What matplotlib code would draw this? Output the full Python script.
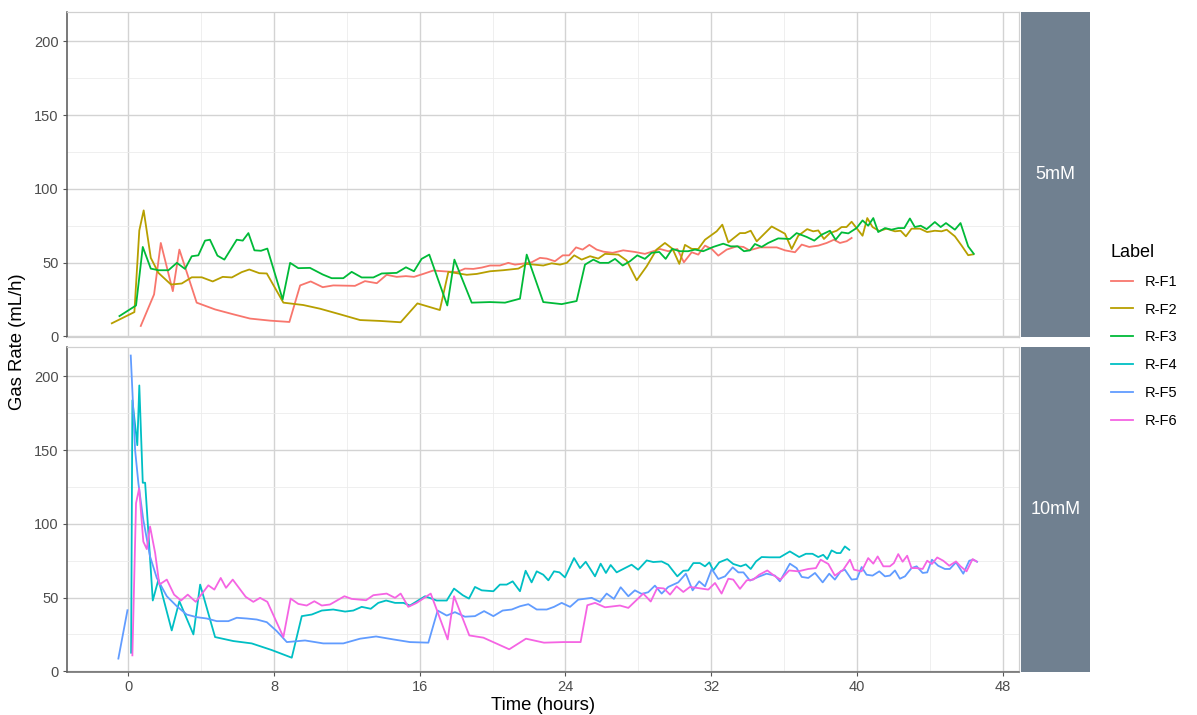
import numpy as np
import matplotlib
matplotlib.use("Agg")
import matplotlib.pyplot as plt
from matplotlib.lines import Line2D

plt.rcParams['font.family'] = ['Liberation Sans', 'DejaVu Sans']

# ---- data ----
labels = ["R-F1", "R-F2", "R-F3", "R-F4", "R-F5", "R-F6"]
colors = ["#F8766D", "#B79F00", "#00BA38", "#00BFC4", "#619CFF", "#F564E3"]
facets = ["5mM", "10mM"]

f1_t = [0.68, 1.41, 1.78, 2.44, 2.8, 3.75, 4.76, 5.76, 6.68, 7.78, 8.84, 9.43, 10.01, 10.67, 11.25,
        12.44, 12.99, 13.64, 14.18, 14.73, 15.24, 15.68, 16.19, 16.74, 17.29, 18.03, 18.48, 18.94,
        19.4, 19.86, 20.4, 20.86, 21.23, 21.68, 22.14, 22.6, 22.97, 23.42, 23.85, 24.2, 24.58, 24.94,
        25.31, 25.71, 26.08, 26.59, 27.17, 27.81, 28.36, 28.82, 29.19, 29.64, 30.14, 30.5, 30.93,
        31.29, 31.66, 32.03, 32.39, 32.85, 33.4, 33.77, 34.09, 34.68, 35.6, 36.05, 36.6, 36.97,
        37.38, 37.88, 38.34, 38.74, 39.07, 39.44, 39.71]
f1_v = [7, 28.4, 63.3, 30.6, 58.8, 22.8, 18.2, 14.9, 12, 10.6, 9.7, 34.5, 37.2, 33.3, 34.5,
        34.2, 37.4, 36, 41.7, 40.3, 40.8, 40.3, 42.3, 44.6, 44.1, 43.5, 45.9, 45.7,
        46.6, 48, 48, 49.8, 48.6, 49.3, 50.2, 53.2, 52.7, 50.9, 54.9, 54.9, 60.3, 58.8,
        62, 58.8, 57.4, 56.6, 58.3, 57.2, 55.9, 57.7, 59.2, 57.7, 59.2, 50.2, 57,
        55.4, 61.5, 59.2, 54.7, 58.8, 61, 60.6, 58.3, 60.3, 60.3, 58.3, 57, 62.2,
        60.6, 61.5, 63.3, 65.5, 63.3, 64.5, 66.7]

f2_t = [-0.91, 0.33, 0.6, 0.84, 1.23, 1.65, 2.34, 2.93, 3.48, 4.03, 4.63, 5.18, 5.68, 6.22, 6.64,
        7.19, 7.6, 8.51, 9.6, 10.52, 11.62, 12.72, 13.82, 14.95, 15.87, 17.1, 17.57, 18.58, 19.13,
        19.86, 20.58, 21.41, 21.87, 22.78, 23.24, 23.7, 24.07, 24.48, 24.89, 25.35, 25.8, 26.17,
        26.9, 27.36, 27.91, 28.46, 29.0, 29.46, 29.88, 30.25, 30.56, 30.93, 31.29, 31.66, 32.3,
        32.61, 32.94, 33.58, 33.86, 34.17, 34.5, 35.32, 36.05, 36.42, 36.78, 37.27, 37.6, 37.88,
        38.19, 38.52, 38.89, 39.16, 39.43, 39.71, 39.98, 40.31, 40.57, 40.86, 41.23, 41.63, 42.09,
        42.4, 42.69, 43.0, 43.46, 43.86, 44.28, 44.65, 44.93, 45.38, 45.75, 46.11, 46.39]
f2_v = [8.8, 16.4, 71.8, 85.4, 53.2, 43, 35.1, 35.8, 40, 40, 37.2, 40.3, 39.9, 43.5, 45.3,
        42.8, 42.6, 22.8, 21.2, 18.7, 14.9, 11, 10.4, 9.5, 22.3, 17.8, 43.7, 41.7, 42.3,
        44.1, 44.8, 45.9, 49.1, 48, 49.5, 48.6, 49.8, 54.9, 52, 54.3, 52.7, 55.9,
        55.4, 51.4, 38, 47.5, 58.8, 63.3, 59.3, 49.1, 62, 59.3, 59.2, 65.5, 71.2,
        75.7, 63.7, 70, 70, 71.6, 64.4, 74.5, 69.6, 59.2, 68.2, 72.7, 71.2, 71.8,
        66, 70, 71.6, 74.1, 74.1, 77.7, 73.4, 68.2, 80.2, 74.1, 71.4, 73, 71.2,
        71.6, 67.8, 73, 73, 70.7, 71.6, 71.2, 72.3, 67.8, 61.5, 55, 55.6]

f3_t = [-0.49, 0.42, 0.79, 1.23, 1.65, 2.2, 2.66, 3.11, 3.48, 3.84, 4.21, 4.48, 4.89, 5.27, 5.95,
        6.28, 6.59, 6.92, 7.28, 7.63, 8.47, 8.88, 9.33, 9.97, 10.67, 11.16, 11.8, 12.26, 12.81,
        13.45, 13.91, 14.73, 15.24, 15.68, 16.1, 16.52, 17.51, 17.9, 18.85, 19.86, 20.68, 21.5,
        21.87, 22.78, 23.79, 24.61, 25.07, 25.53, 25.89, 26.36, 26.72, 27.14, 27.54, 27.94, 28.36,
        28.73, 29.15, 29.5, 29.86, 30.28, 30.73, 31.11, 31.56, 32.11, 32.66, 33.07, 33.46, 33.8,
        34.13, 34.4, 34.77, 35.13, 35.68, 36.32, 36.69, 37.24, 37.66, 38.06, 38.52, 38.83, 39.16,
        39.53, 39.98, 40.31, 40.62, 40.9, 41.17, 41.54, 41.9, 42.27, 42.6, 42.91, 43.18, 43.5,
        43.83, 44.28, 44.6, 44.89, 45.38, 45.69, 46.11, 46.42]
f3_v = [13.7, 20.9, 60.6, 45.9, 44.8, 44.8, 49.8, 45.7, 54.3, 54.9, 64.9, 65.5, 54.7, 52, 65.5,
        64.9, 70, 58.3, 58, 59.5, 25, 49.8, 46.2, 46.4, 41.9, 39.4, 39.4, 43.7, 39.9,
        39.9, 42.6, 43, 46.8, 44.1, 52.5, 55.4, 20.9, 52, 22.8, 23.2, 22.8, 25.5,
        55.4, 23.2, 21.8, 23.9, 48.6, 52, 49.8, 49.8, 52.5, 48, 50.9, 54.9, 52.5,
        56.6, 57.2, 52.5, 59.3, 57.7, 57.7, 58.8, 57.7, 60.6, 62.8, 61, 61, 57.7,
        58.3, 62.6, 60.6, 63.3, 66.4, 66, 70, 67.4, 64.9, 68.9, 71.6, 65.5, 70.5,
        69.8, 73.4, 78.6, 75, 80.2, 70.7, 73.4, 72.3, 73.4, 73.4, 79.9, 74.1, 75,
        72.7, 77.5, 74.1, 76.8, 72.3, 76.8, 61, 55.9]

f4_t = [0.15, 0.22, 0.49, 0.6, 0.79, 0.92, 1.34, 1.65, 2.38, 2.8, 3.57, 3.94, 4.76, 5.76, 6.77,
        7.87, 8.97, 9.52, 10.07, 10.62, 11.25, 11.9, 12.35, 12.81, 13.31, 13.72, 14.15, 14.64,
        15.1, 15.46, 16.29, 16.93, 17.48, 17.88, 18.36, 18.7, 19.03, 19.4, 20.04, 20.4, 20.77,
        21.1, 21.5, 21.81, 22.14, 22.42, 22.78, 23.06, 23.37, 23.67, 23.97, 24.47, 24.8, 25.11,
        25.62, 25.93, 26.22, 26.48, 26.81, 27.17, 27.63, 27.99, 28.46, 28.82, 29.28, 29.64, 30.14,
        30.47, 30.74, 31.02, 31.38, 31.66, 31.9, 32.11, 32.44, 32.88, 33.21, 33.62, 33.9, 34.17,
        34.46, 34.77, 35.22, 35.77, 36.32, 36.83, 37.2, 37.56, 37.88, 38.15, 38.37, 38.61, 38.89,
        39.1, 39.34, 39.58]
f4_v = [12.6, 183.8, 153.4, 193.9, 127.9, 127.9, 48, 62.2, 27.7, 47.5, 25, 58.8, 23.2, 20.5, 18.9,
        14.4, 9.2, 37.4, 38.5, 41.2, 41.9, 40.5, 41.2, 43.7, 42.4, 46.4, 48, 46.4,
        46.4, 44.6, 50.9, 48, 48, 56.1, 51.6, 49.3, 57.2, 54.9, 54.3, 58.8, 58.8,
        61, 54.3, 68.2, 60.3, 67.8, 65.5, 61.7, 67.8, 67.1, 63.7, 76.8, 70, 74.3,
        64.4, 73, 66.7, 72.1, 67.1, 69.4, 72.3, 68.9, 75.2, 74.1, 74.5, 72.3, 64.4,
        68.2, 68.4, 73.4, 73.4, 71.2, 73.9, 68.4, 73.9, 76.1, 72.8, 71.2, 72.5, 69.4,
        74.5, 77.5, 77.3, 77.3, 81.3, 77.5, 79.7, 79.7, 77.5, 79, 76.1, 82, 80.2,
        80.2, 84.7, 82.4]

# NaN marks the gap in the logged F5 series
f5_t = [-0.55, -0.05, np.nan, 0.13, 0.37, 0.55, 0.82, 1.19, 1.56, 2.11, 2.66, 3.2, 3.75, 4.3, 4.85,
        5.49, 5.95, 6.5, 7.05, 7.6, 8.15, 8.7, 9.7, 10.7, 11.8, 12.72, 13.6, 14.55, 15.46, 16.47,
        16.98, 17.48, 17.93, 18.48, 19.03, 19.53, 20.04, 20.55, 21.05, 21.5, 21.96, 22.42, 22.97,
        23.37, 23.79, 24.25, 24.7, 25.44, 25.89, 26.26, 26.66, 27.03, 27.45, 27.81, 28.18, 28.54,
        28.91, 29.28, 29.64, 30.19, 30.61, 30.98, 31.34, 31.66, 32.03, 32.39, 32.76, 33.18, 33.49,
        33.77, 34.13, 34.58, 35.04, 35.5, 35.77, 36.32, 36.69, 36.97, 37.33, 37.7, 38.12, 38.48,
        38.79, 39.11, 39.34, 39.71, 40.0, 40.26, 40.53, 40.86, 41.23, 41.54, 41.81, 42.09, 42.36,
        42.64, 43.0, 43.28, 43.61, 43.86, 44.12, 44.46, 44.83, 45.1, 45.44, 45.84, 46.17, 46.39,
        46.6]
f5_v = [8.6, 41.4, np.nan, 214.2, 150, 127.5, 102.7, 77.9, 63.3, 50.9, 44.1, 38.5, 36.7, 35.8, 34,
        34, 36.3, 35.8, 35.1, 33.3, 27.2, 19.8, 20.9, 18.9, 18.9, 22.1, 23.6, 21.6, 19.8, 19.4,
        41.2, 37.8, 40.1, 37, 37.4, 40.8, 37.4, 41.2, 41.9, 44.1, 45.5, 41.9, 41.9,
        43.7, 46.4, 43.7, 48.6, 49.8, 47.1, 52.7, 49.1, 57, 50.9, 54.9, 52.5, 53.6,
        58.1, 52.7, 57.2, 60.3, 66.2, 54.9, 61, 57.6, 69.4, 62.6, 64.4, 70.5, 67.1,
        67.1, 61.5, 64, 66.2, 64.9, 61, 73, 70, 64, 63.3, 66.7, 60.3, 66.2,
        62.2, 67.8, 68.9, 62.2, 62.6, 70.7, 65.5, 64.9, 67.8, 64.4, 64.9, 68.4, 62.8,
        64.4, 70, 71.2, 66.7, 67.1, 75.7, 71.6, 69.4, 69.4, 73.9, 66.2, 75, 75.7,
        74.3]

f6_t = [0.22, 0.42, 0.59, 0.82, 1.01, 1.19, 1.47, 1.7, 2.11, 2.51, 2.89, 3.26, 3.7, 4.39, 4.72,
        5.07, 5.36, 5.73, 6.44, 6.86, 7.23, 7.63, 8.51, 8.91, 9.33, 9.79, 10.21, 10.62, 11.07,
        11.86, 12.26, 13.05, 13.45, 14.18, 14.64, 14.95, 15.37, 15.83, 16.6, 16.96, 17.53, 17.88,
        18.72, 19.49, 20.91, 21.83, 22.82, 23.88, 24.83, 25.2, 25.62, 26.17, 26.99, 27.45, 28.27,
        28.68, 29.04, 29.4, 29.74, 30.1, 30.47, 30.83, 31.2, 31.84, 32.21, 32.57, 32.94, 33.21,
        33.58, 33.95, 34.31, 34.64, 35.08, 35.45, 35.81, 36.28, 36.78, 37.33, 37.75, 38.01, 38.43,
        38.79, 39.25, 39.62, 39.84, 40.26, 40.62, 40.9, 41.14, 41.45, 41.81, 42.03, 42.27, 42.51,
        42.76, 43.0, 43.28, 43.61, 43.86, 44.12, 44.41, 44.74, 45.07, 45.44, 45.69, 46.02, 46.35,
        46.57]
f6_v = [10.8, 114, 124.1, 88, 82.9, 98.2, 80.2, 58.8, 62.2, 52, 48, 52, 47.1, 58.3, 55.4,
        63.3, 56.6, 62.2, 50.5, 47.1, 49.8, 47.1, 23.2, 49.3, 45.7, 44.6, 47.5, 44.6, 45.3,
        50.9, 49.1, 48.2, 51.6, 52.7, 49.8, 52.7, 43.7, 46.4, 52.7, 40.8, 21.6, 50.9,
        24.3, 22.8, 14.9, 22.1, 19.4, 19.8, 19.8, 44.8, 46.4, 43.4, 44.6, 43, 52.7,
        47.3, 56.6, 56.2, 52, 57.6, 53.8, 57.2, 56.6, 55.4, 59.9, 52.7, 62.8, 62.2,
        55.9, 61.7, 62.2, 65.5, 68.4, 64.9, 62.2, 68.4, 67.8, 69.4, 70, 75.7, 72.8,
        64.9, 68.9, 75.7, 68.9, 67.8, 76.8, 73, 77.9, 71.2, 71.2, 73.4, 79.5, 74.3,
        78.4, 70, 70, 69.4, 75, 72.8, 77.2, 75, 71.6, 74.5, 71.2, 67.8, 76.1,
        74.5]

panel_series = [
    [(f1_t, f1_v, 0), (f2_t, f2_v, 1), (f3_t, f3_v, 2)],
    [(f4_t, f4_v, 3), (f5_t, f5_v, 4), (f6_t, f6_v, 5)],
]

# ---- figure ----
W, H = 1197, 715
fig = plt.figure(figsize=(W / 100, H / 100), dpi=100)

def box(x0, y0, x1, y1):
    # pixel box (top-left origin) -> figure fraction rect
    return [x0 / W, 1 - y1 / H, (x1 - x0) / W, (y1 - y0) / H]

panel_px = [(67, 12, 1019, 337), (67, 347, 1019, 672)]
axes = []
for i, (x0, y0, x1, y1) in enumerate(panel_px):
    ax = fig.add_axes(box(x0, y0, x1, y1))
    axes.append(ax)

    for t, v, k in panel_series[i]:
        ax.plot(t, v, color=colors[k], lw=1.3, solid_joinstyle='round', zorder=3)

    ax.set_xlim(-3.37, 48.9)
    ax.set_ylim(-0.5, 220)
    ax.set_xticks(np.arange(0, 49, 8))
    ax.set_xticks(np.arange(4, 48, 8), minor=True)
    ax.set_yticks(np.arange(0, 201, 50))
    ax.set_yticks(np.arange(25, 201, 50), minor=True)
    ax.grid(which='major', color='#d3d3d3', lw=1.0, zorder=0)
    ax.grid(which='minor', color='#ececec', lw=0.6, zorder=0)
    ax.set_axisbelow(True)
    ax.tick_params(axis='both', which='minor', length=0)
    ax.tick_params(axis='both', which='major', length=3, width=0.8, color='#555555',
                   labelsize=10.5, labelcolor='#4D4D4D', pad=3)
    for side in ['top', 'right', 'bottom']:
        ax.spines[side].set_color('#d0d0d0')
        ax.spines[side].set_linewidth(0.9)
    ax.spines['left'].set_color('#555555')
    ax.spines['left'].set_linewidth(1.1)

    # facet strip on the right
    sx = fig.add_axes(box(1021, y0, 1090, y1))
    sx.set_facecolor('#708090')
    sx.set_xticks([])
    sx.set_yticks([])
    for s in sx.spines.values():
        s.set_visible(False)
    sx.text(0.5, 0.5, facets[i], color='white', fontsize=13,
            ha='center', va='center', transform=sx.transAxes)

axes[0].tick_params(axis='x', which='both', length=0, labelbottom=False)
axes[1].spines['bottom'].set_color('#666666')
axes[1].spines['bottom'].set_linewidth(1.1)

fig.text(543 / W, 1 - 706 / H, "Time (hours)", ha='center', va='center', fontsize=13.3)
fig.text(18 / W, 1 - 342 / H, "Gas Rate (mL/h)", ha='center', va='center',
         rotation=90, fontsize=13.3)

handles = [Line2D([0], [0], color=c, lw=1.3) for c in colors]
leg = fig.legend(handles, labels, loc='upper left', bbox_to_anchor=(1105 / W, 1 - 238 / H),
                 title="Label", frameon=False, fontsize=10.5, title_fontsize=13,
                 handlelength=1.5, labelspacing=0.95, alignment='left', borderaxespad=0)

fig.savefig("out.png", dpi=100, facecolor='white')
